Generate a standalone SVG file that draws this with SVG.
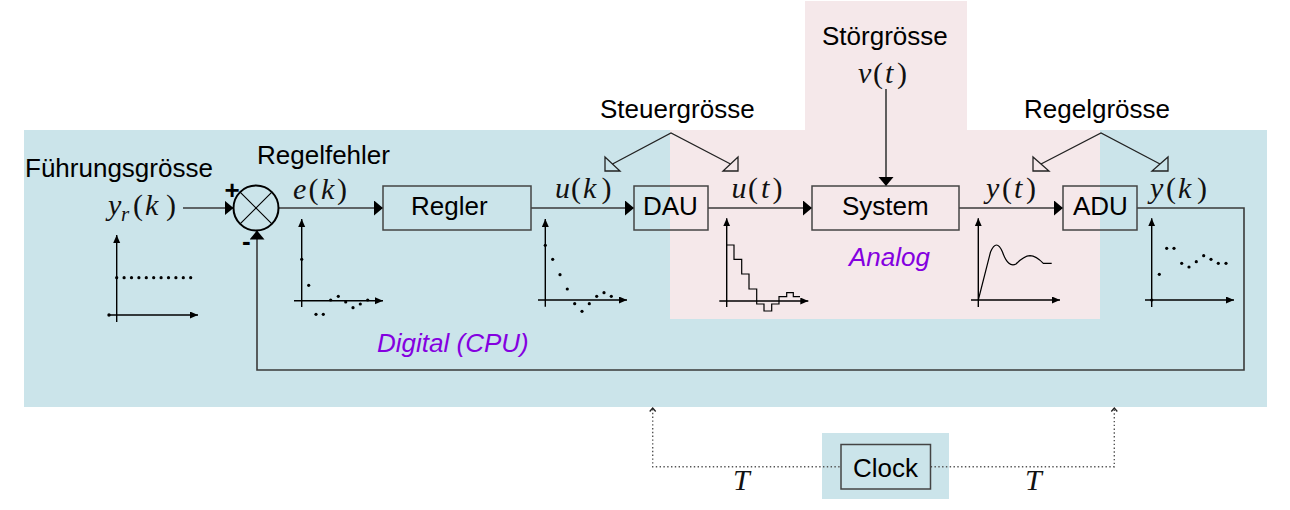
<svg xmlns="http://www.w3.org/2000/svg" width="1290" height="510" viewBox="0 0 1290 510">
<defs>
<style>
.lbl{font-family:"Liberation Sans",Arial,sans-serif;font-size:26px;fill:#000}
.ital{font-family:"Liberation Sans",Arial,sans-serif;font-size:26px;font-style:italic;fill:#8400e0}
.math{font-family:"Liberation Serif","Times New Roman",serif;font-size:30px;fill:#111}
.mi{font-style:italic}
.box{fill:none;stroke:#444;stroke-width:1.5}
.con{fill:none;stroke:#3a3a3a;stroke-width:1.6}
.ptr{fill:none;stroke:#222;stroke-width:1.3}
.axis{fill:none;stroke:#000;stroke-width:1.4}
.dot{fill:#000}
.dotted{fill:none;stroke:#555;stroke-width:1.4;stroke-dasharray:1.4 2.4}
</style>
<marker id="arr" markerUnits="userSpaceOnUse" markerWidth="10" markerHeight="16" refX="9" refY="7.5" orient="auto">
<path d="M0,0 L9,7.5 L0,15 Z" fill="#000"/>
</marker>
<marker id="ax" markerUnits="userSpaceOnUse" markerWidth="9" markerHeight="8" refX="8" refY="3.5" orient="auto">
<path d="M0,0 L8,3.5 L0,7 Z" fill="#000"/>
</marker>
</defs>

<!-- backgrounds -->
<rect x="24" y="130" width="1243" height="277" fill="#cbe4ea"/>
<path d="M670,130 H805 V1 H967 V130 H1100 V319 H670 Z" fill="#f5e8ea"/>
<rect x="822" y="433" width="127" height="66" fill="#cbe4ea"/>

<!-- connectors -->
<g id="connectors">
<path class="con" d="M183,208 H233.5" marker-end="url(#arr)"/>
<path class="con" d="M278.5,208 H383" marker-end="url(#arr)"/>
<path class="con" d="M531,208 H634" marker-end="url(#arr)"/>
<path class="con" d="M708,208 H812" marker-end="url(#arr)"/>
<path class="con" d="M959,208 H1063" marker-end="url(#arr)"/>
<path class="con" d="M886,89 V186" marker-end="url(#arr)"/>
<path class="con" d="M1137,208 H1244 V370 H257 V230.5" marker-end="url(#arr)"/>
<path class="dotted" d="M652.7,409 V466.7 H841 M930.7,466.7 H1114.3 V409"/>
<polyline class="ptr" points="649.7,411.5 652.7,408 655.7,411.5" stroke-width="1"/>
<polyline class="ptr" points="1111.3,411.5 1114.3,408 1117.3,411.5" stroke-width="1"/>
<path class="ptr" d="M612.5,164 L671,133 L730.5,164"/>
<polygon class="ptr" points="605,157 605,171 620,171"/>
<polygon class="ptr" points="738,157 738,171 723,171"/>
<path class="ptr" d="M1041,164 L1101,133 L1160,164"/>
<polygon class="ptr" points="1033,157 1033,171 1049,171"/>
<polygon class="ptr" points="1168,157 1168,171 1152,171"/>
</g>

<!-- nodes -->
<g id="sum">
<circle cx="256" cy="208" r="22.5" fill="none" stroke="#000" stroke-width="2"/>
<path d="M240.1,192.1 L271.9,223.9 M271.9,192.1 L240.1,223.9" stroke="#000" stroke-width="1.2"/>
<text class="lbl" x="224.5" y="199" font-size="22" font-weight="bold">+</text>
<text class="lbl" x="242" y="249.5" font-size="22" font-weight="bold">-</text>
</g>
<g id="regler">
<rect class="box" x="383" y="186" width="148" height="44"/>
<text class="lbl" x="411" y="215">Regler</text>
</g>
<g id="dau">
<rect class="box" x="634" y="186" width="74" height="44"/>
<text class="lbl" x="643" y="215">DAU</text>
</g>
<g id="system">
<rect class="box" x="812" y="186" width="147" height="44"/>
<text class="lbl" x="842" y="215">System</text>
</g>
<g id="adu">
<rect class="box" x="1063" y="186" width="74" height="44"/>
<text class="lbl" x="1073" y="215">ADU</text>
</g>
<g id="clock">
<rect class="box" x="841" y="444.5" width="89.5" height="44.5"/>
<text class="lbl" x="853" y="477">Clock</text>
</g>

<!-- labels -->
<g id="labels">
<text class="lbl" x="25" y="177">Führungsgrösse</text>
<text class="lbl" x="257" y="164">Regelfehler</text>
<text class="lbl" x="600" y="118">Steuergrösse</text>
<text class="lbl" x="1024" y="118">Regelgrösse</text>
<text class="lbl" x="822" y="45">Störgrösse</text>
<text class="ital" x="377" y="352">Digital (CPU)</text>
<text class="ital" x="849" y="266">Analog</text>

<text class="math" y="215"><tspan class="mi" x="108">y</tspan><tspan class="mi" x="121" dy="6" font-size="21">r</tspan><tspan x="133" dy="-6">(</tspan><tspan class="mi" x="145">k</tspan><tspan x="166">)</tspan></text>
<text class="math" y="199"><tspan class="mi" x="293">e</tspan><tspan x="308.5">(</tspan><tspan class="mi" x="321">k</tspan><tspan x="337">)</tspan></text>
<text class="math" y="198"><tspan class="mi" x="555">u</tspan><tspan x="571">(</tspan><tspan class="mi" x="583">k</tspan><tspan x="601.5">)</tspan></text>
<text class="math" y="198"><tspan class="mi" x="731.5">u</tspan><tspan x="748">(</tspan><tspan class="mi" x="761">t</tspan><tspan x="772.5">)</tspan></text>
<text class="math" y="198"><tspan class="mi" x="986">y</tspan><tspan x="1002">(</tspan><tspan class="mi" x="1014">t</tspan><tspan x="1026">)</tspan></text>
<text class="math" y="198"><tspan class="mi" x="1150">y</tspan><tspan x="1166">(</tspan><tspan class="mi" x="1178">k</tspan><tspan x="1197">)</tspan></text>
<text class="math" y="83"><tspan class="mi" x="858">v</tspan><tspan x="873">(</tspan><tspan class="mi" x="885">t</tspan><tspan x="897">)</tspan></text>
<text class="math mi" x="733" y="490" font-size="32">T</text>
<text class="math mi" x="1025" y="490" font-size="32">T</text>
</g>

<!-- plots -->
<g id="plot-yr">
<path class="axis" d="M116.7,322 V235" marker-end="url(#ax)"/>
<path class="axis" d="M108,315 H198" marker-end="url(#ax)"/>
<circle class="dot" cx="109" cy="315" r="1.7"/>
<g class="dot">
<circle cx="116.7" cy="277.7" r="1.6"/><circle cx="124.1" cy="277.7" r="1.6"/><circle cx="131.5" cy="277.7" r="1.6"/><circle cx="138.9" cy="277.7" r="1.6"/><circle cx="146.3" cy="277.7" r="1.6"/><circle cx="153.7" cy="277.7" r="1.6"/><circle cx="161.1" cy="277.7" r="1.6"/><circle cx="168.5" cy="277.7" r="1.6"/><circle cx="175.9" cy="277.7" r="1.6"/><circle cx="183.3" cy="277.7" r="1.6"/><circle cx="190.7" cy="277.7" r="1.6"/>
</g>
</g>
<g id="plot-e">
<path class="axis" d="M301.7,307 V219" marker-end="url(#ax)"/>
<path class="axis" d="M294,300.7 H383" marker-end="url(#ax)"/>
<g class="dot">
<circle cx="301.7" cy="259.3" r="1.6"/><circle cx="308.7" cy="285.3" r="1.6"/><circle cx="316" cy="314.3" r="1.6"/><circle cx="323.3" cy="314.3" r="1.6"/><circle cx="330.7" cy="300" r="1.6"/><circle cx="338.3" cy="296.3" r="1.6"/><circle cx="345.7" cy="302" r="1.6"/><circle cx="353" cy="307.7" r="1.6"/><circle cx="360.3" cy="304" r="1.6"/><circle cx="367.7" cy="300" r="1.6"/>
</g>
</g>
<g id="plot-uk">
<path class="axis" d="M545.3,306.7 V219" marker-end="url(#ax)"/>
<path class="axis" d="M538,300 H627" marker-end="url(#ax)"/>
<g class="dot">
<circle cx="545.3" cy="245.3" r="1.6"/><circle cx="552.7" cy="259.3" r="1.6"/><circle cx="560" cy="274.7" r="1.6"/><circle cx="567.3" cy="289" r="1.6"/><circle cx="574.7" cy="303.7" r="1.6"/><circle cx="582" cy="311.3" r="1.6"/><circle cx="589.3" cy="303.7" r="1.6"/><circle cx="596.7" cy="296.3" r="1.6"/><circle cx="604" cy="292.7" r="1.6"/><circle cx="611.3" cy="296.3" r="1.6"/>
</g>
</g>
<g id="plot-ut">
<path class="axis" d="M726.7,307 V218.3" marker-end="url(#ax)"/>
<path class="axis" d="M719.3,301 H808.3" marker-end="url(#ax)"/>
<path fill="none" stroke="#000" stroke-width="1.2" d="M726.7,245 H734 V259.3 H741.7 V274 H749 V289 H756.7 V304 H764 V311 H771.7 V304 H779 V296.7 H786.7 V292.7 H793.3 V296.7 H800"/>
</g>
<g id="plot-yt">
<path class="axis" d="M978.3,307 V218.3" marker-end="url(#ax)"/>
<path class="axis" d="M971,300 H1060" marker-end="url(#ax)"/>
<path fill="none" stroke="#000" stroke-width="1.2" d="M978.3,300 L990.5,252 Q996.5,238 1002.5,252 Q1008,268 1016,264 Q1024,256 1030,255.7 Q1036,256 1043.3,263.3 L1051.7,263.3"/>
</g>
<g id="plot-yk">
<path class="axis" d="M1151.7,307 V218.3" marker-end="url(#ax)"/>
<path class="axis" d="M1145,300 H1234" marker-end="url(#ax)"/>
<g class="dot">
<circle cx="1151.7" cy="300" r="1.6"/><circle cx="1159.3" cy="274.3" r="1.6"/><circle cx="1166.7" cy="248.3" r="1.6"/><circle cx="1174" cy="248.3" r="1.6"/><circle cx="1181.7" cy="263.3" r="1.6"/><circle cx="1189" cy="267" r="1.6"/><circle cx="1196.3" cy="261.7" r="1.6"/><circle cx="1203.7" cy="255.7" r="1.6"/><circle cx="1211" cy="259.3" r="1.6"/><circle cx="1218.3" cy="263.3" r="1.6"/><circle cx="1226" cy="263.3" r="1.6"/>
</g>
</g>
</svg>
